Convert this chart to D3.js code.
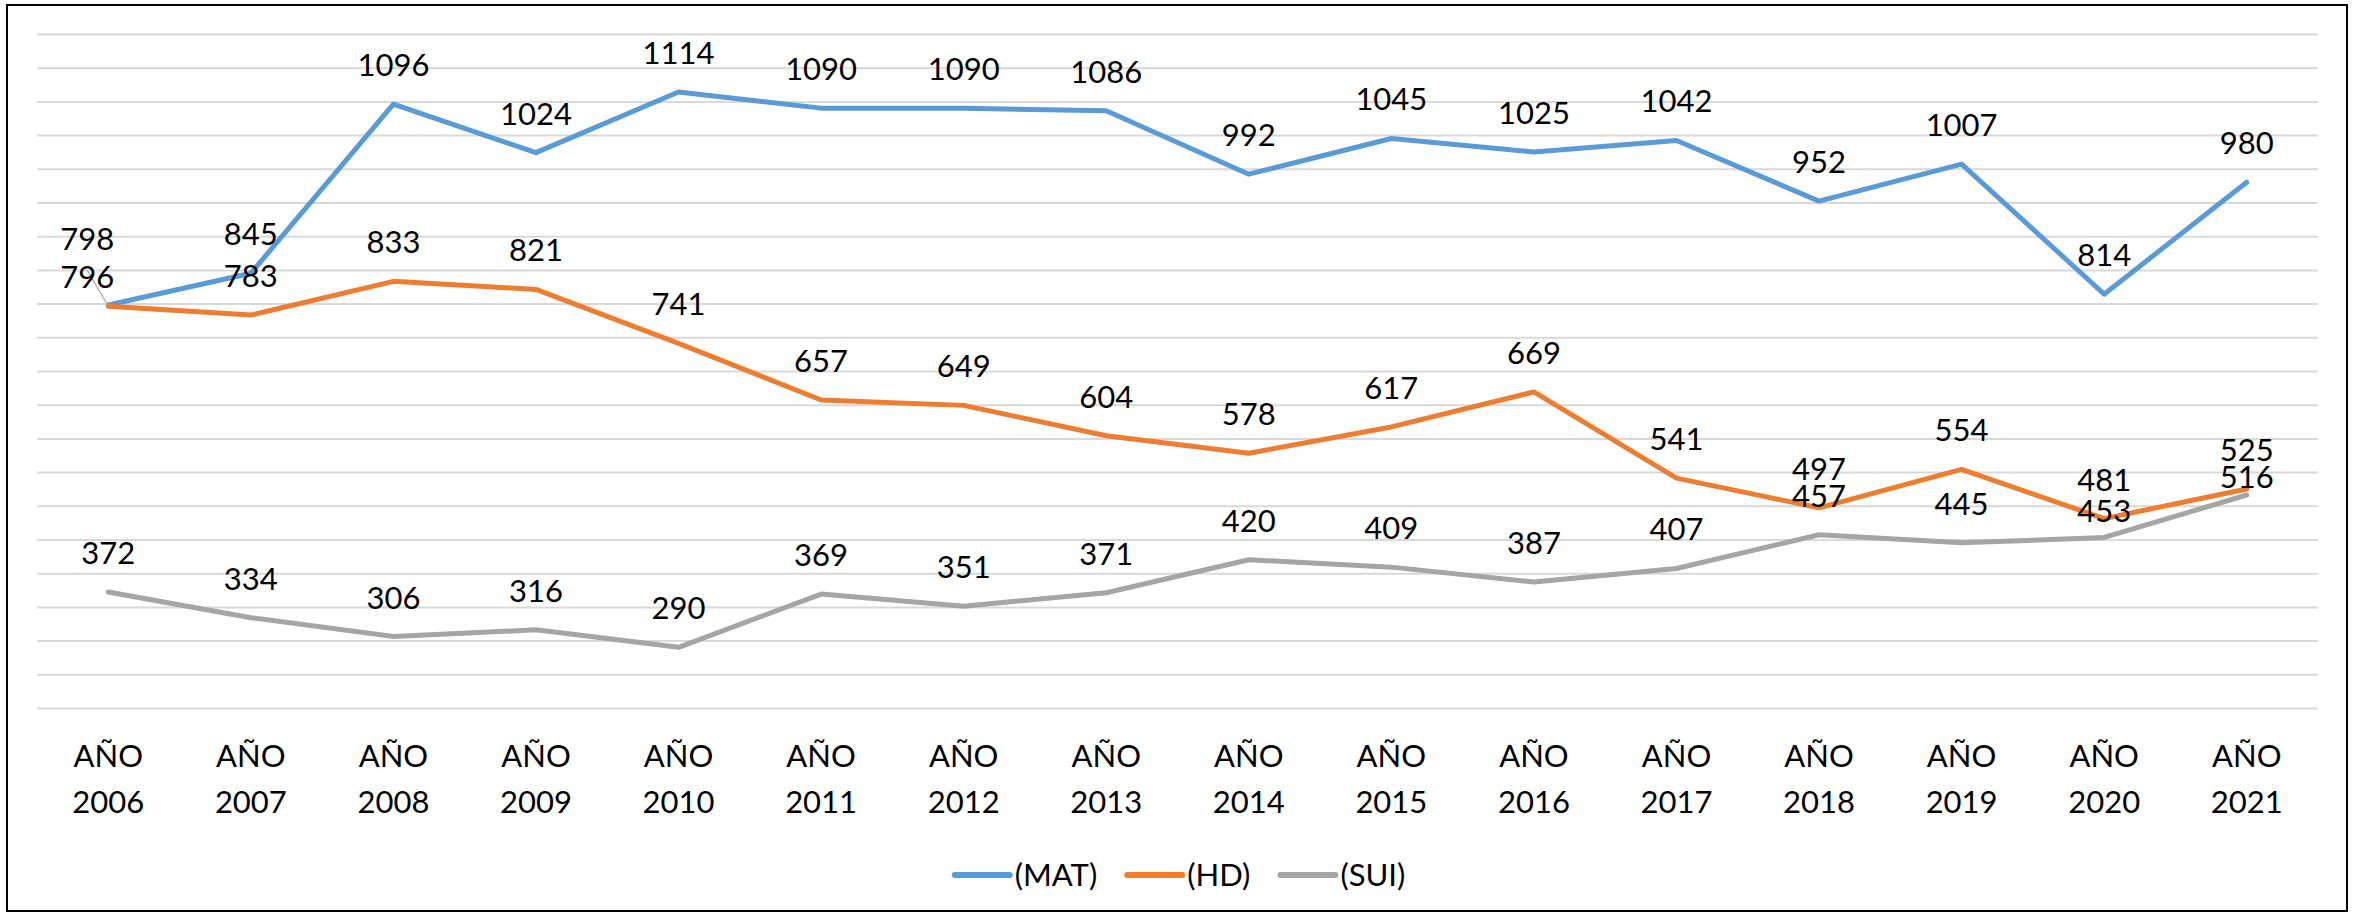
<!DOCTYPE html>
<html>
<head>
<meta charset="utf-8">
<script src="https://cdn.jsdelivr.net/npm/d3@7"></script>
<style>
  body { margin: 0; background: #fff; }
  text { font-family: Lato, "Open Sans", sans-serif; fill: #000; }
</style>
</head>
<body>
<div id="chart"></div>
<script>
// categories
var years = ["AÑO 2006", "AÑO 2007", "AÑO 2008", "AÑO 2009", "AÑO 2010", "AÑO 2011",
    "AÑO 2012", "AÑO 2013", "AÑO 2014", "AÑO 2015", "AÑO 2016", "AÑO 2017",
    "AÑO 2018", "AÑO 2019", "AÑO 2020", "AÑO 2021"];

// series values
var mat = [798, 845, 1096, 1024, 1114, 1090, 1090, 1086, 992, 1045, 1025, 1042, 952, 1007, 814, 980];
var hd  = [796, 783, 833, 821, 741, 657, 649, 604, 578, 617, 669, 541, 497, 554, 481, 525];
var sui = [372, 334, 306, 316, 290, 369, 351, 371, 420, 409, 387, 407, 457, 445, 453, 516];

var seriesNames = ["(MAT)", "(HD)", "(SUI)"];

// value axis (gridlines only)
var yMin = 200, yMax = 1200, yStep = 50;

var colors = ["#5B9BD5", "#ED7D31", "#A5A5A5"];

// labels that were dragged off their default spot in the original
var labelNudge = {
    "0-0": [-21, -27],
    "1-0": [-21, 10],
    "2-14": [0, 13],
    "2-15": [0, 21]
};

var width = 2354, height = 914;
var plot = { left: 37, right: 2318, top: 34, bottom: 708 };
var fontSize = 31;

var svg = d3.select("#chart")
    .append("svg")
    .attr("width", width)
    .attr("height", height);

// outer frame
svg.append("rect")
    .attr("x", 7).attr("y", 5)
    .attr("width", 2340).attr("height", 906)
    .attr("fill", "none")
    .attr("stroke", "#000")
    .attr("stroke-width", 2);

var x = d3.scaleBand().domain(years).range([plot.left, plot.right]);
var y = d3.scaleLinear().domain([yMin, yMax]).range([plot.bottom, plot.top]);
var cx = function (d) { return x(d) + x.bandwidth() / 2; };

// gridlines
var grid = svg.append("g")
    .attr("transform", "translate(" + plot.left + ",0)")
    .call(d3.axisLeft(y)
        .tickValues(d3.range(yMin, yMax + 1, yStep))
        .tickSize(-(plot.right - plot.left))
        .tickFormat(""));
grid.select(".domain").remove();
grid.selectAll(".tick line").attr("stroke", "#D9D9D9").attr("stroke-width", 2);

// category axis
var xAxis = svg.append("g")
    .attr("transform", "translate(0," + plot.bottom + ")")
    .call(d3.axisBottom(x).tickSize(0).tickFormat(""));
xAxis.select(".domain").remove();
xAxis.selectAll(".tick").each(function (d) {
    var parts = d.split(" ");
    var t = d3.select(this).append("text")
        .attr("text-anchor", "middle")
        .style("font-size", fontSize + "px");
    t.append("tspan").attr("x", 0).attr("y", 59).text(parts[0]);
    t.append("tspan").attr("x", 0).attr("y", 105).text(parts[1]);
});

var series = [mat, hd, sui];

var line = d3.line()
    .x(function (d, i) { return cx(years[i]); })
    .y(function (d) { return y(d); });

svg.append("g").selectAll("path")
    .data(series)
    .enter().append("path")
    .attr("d", line)
    .attr("fill", "none")
    .attr("stroke", function (d, i) { return colors[i]; })
    .attr("stroke-width", 5)
    .attr("stroke-linejoin", "round")
    .attr("stroke-linecap", "round");

// data labels
var labelG = svg.append("g");
series.forEach(function (vals, s) {
    vals.forEach(function (v, i) {
        var px = cx(years[i]), py = y(v);
        var n = labelNudge[s + "-" + i] || [0, 0];
        var lx = px + n[0], ly = py - 28 + n[1];
        if (s === 1 && i === 0) {
            // leader line
            labelG.append("line")
                .attr("x1", lx).attr("y1", ly - 18)
                .attr("x2", px).attr("y2", py)
                .attr("stroke", "#A6A6A6")
                .attr("stroke-width", 1.2);
        }
        labelG.append("text")
            .attr("x", lx)
            .attr("y", ly)
            .attr("text-anchor", "middle")
            .style("font-size", fontSize + "px")
            .text(v);
    });
});

// legend
var legend = svg.append("g");
var lineLen = 55, gapText = 5, gapItem = 30, legendY = 875;
var xpos = 0;
seriesNames.forEach(function (name, i) {
    var g = legend.append("g").attr("transform", "translate(" + xpos + ",0)");
    g.append("line")
        .attr("x1", 0).attr("x2", lineLen)
        .attr("y1", legendY).attr("y2", legendY)
        .attr("stroke", colors[i])
        .attr("stroke-width", 6)
        .attr("stroke-linecap", "round");
    var t = g.append("text")
        .attr("x", lineLen + gapText)
        .attr("y", legendY + 11)
        .style("font-size", fontSize + "px")
        .text(name);
    xpos += lineLen + gapText + t.node().getComputedTextLength() + gapItem;
});
var legendW = xpos - gapItem;
legend.attr("transform", "translate(" + (1180 - legendW / 2) + ",0)");
</script>
</body>
</html>
